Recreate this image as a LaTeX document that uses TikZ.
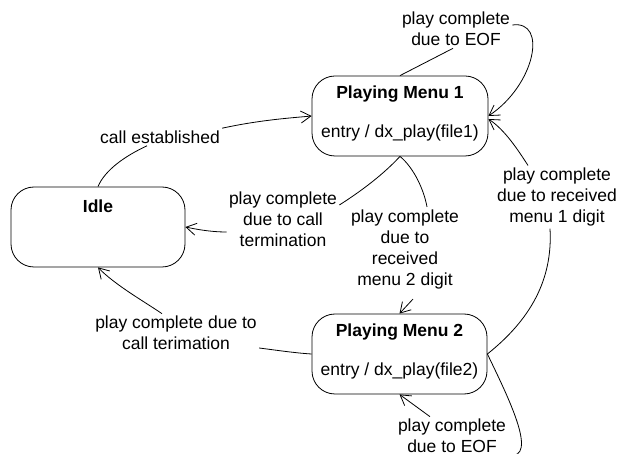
\documentclass[tikz,border=0pt]{standalone}
\usepackage{fontspec}
\setmainfont{Liberation Sans}
\usetikzlibrary{arrows.meta}
\begin{document}
\begin{tikzpicture}[x=1pt,y=-1pt,line width=0.8pt,
  state/.style={draw,rounded corners=23pt,minimum height=80pt,inner sep=0pt},
  lbl/.style={align=center,inner sep=2pt,font=\fontsize{17.5}{21}\selectfont},
  ttl/.style={inner sep=0pt,font=\bfseries\fontsize{17.5}{21}\selectfont},
  txt/.style={inner sep=0pt,font=\fontsize{17.5}{21}\selectfont},
  tr/.style={-{Straight Barb[length=10pt,width=12pt]}}]
\useasboundingbox (0,0) rectangle (619,454);

% states
\node[state,minimum width=174pt] (idle) at (98,227) {};
\node[ttl] (idlet) at ([yshift=-20pt]idle.north) {Idle};

\node[state,minimum width=176pt] (pm1) at (400,116) {};
\node[ttl] (pm1t) at ([yshift=-18pt]pm1.north) {Playing Menu 1};
\node[txt] (pm1e) at ([yshift=23pt]pm1.south) {entry / dx\_play(file1)};

\node[state,minimum width=175pt] (pm2) at (399.5,354) {};
\node[ttl] (pm2t) at ([yshift=-18pt]pm2.north) {Playing Menu 2};
\node[txt] (pm2e) at ([yshift=23pt]pm2.south) {entry / dx\_play(file2)};

% transition labels
\node[lbl] (eof1) at (456,29) {play complete\\due to EOF};
\node[lbl] (cest) at (160,137) {call established};
\node[lbl] (ct1) at (283,219) {play complete\\due to call\\termination};
\node[lbl] (m2) at (405,249) {play complete\\due to\\received\\menu 2 digit};
\node[lbl] (m1) at (557,197) {play complete\\due to received\\menu 1 digit};
\node[lbl] (ct2) at (176,333) {play complete due to\\call terimation};
\node[lbl] (eof2) at (452,436) {play complete\\due to EOF};

% transitions
\draw (idle.north) .. controls (105,170) and (125,156) .. ([xshift=-13pt]cest.south);
\draw[tr] (cest.north east) .. controls (260,120) and (290,118) .. (pm1.west);

\draw (pm1.north) -- ([xshift=-3pt]eof1.south);
\draw[tr] ([yshift=4pt]eof1.east) .. controls (548,20) and (535,85) .. (pm1.east);

\draw (pm1.south) .. controls (380,178) and (355,195) .. ([yshift=14pt]ct1.east);
\draw[tr] ([yshift=-13pt]ct1.west) .. controls (210,232) and (195,229) .. (idle.east);

\draw (pm1.south) .. controls (414,168) and (424,190) .. ([xshift=22pt]m2.north);
\draw[tr] ([xshift=8pt,yshift=-8pt]m2.south) -- (pm2.north);

\draw[tr] ([xshift=-29pt]m1.north) .. controls (518,150) and (505,130) .. ([yshift=-3pt]pm1.east);
\draw ([xshift=-7pt]m1.south) .. controls (553,280) and (530,320) .. (pm2.east);

\draw (pm2.east) .. controls (507,395) and (540,460) .. (eof2.south east);
\draw[tr] ([xshift=-22pt]eof2.north) -- (pm2.south);

\draw ([yshift=-15pt]ct2.east) .. controls (275,350) and (295,353) .. (pm2.west);
\draw[tr] ([xshift=-14pt]ct2.north) .. controls (145,302) and (115,285) .. (idle.south);
\end{tikzpicture}
\end{document}
